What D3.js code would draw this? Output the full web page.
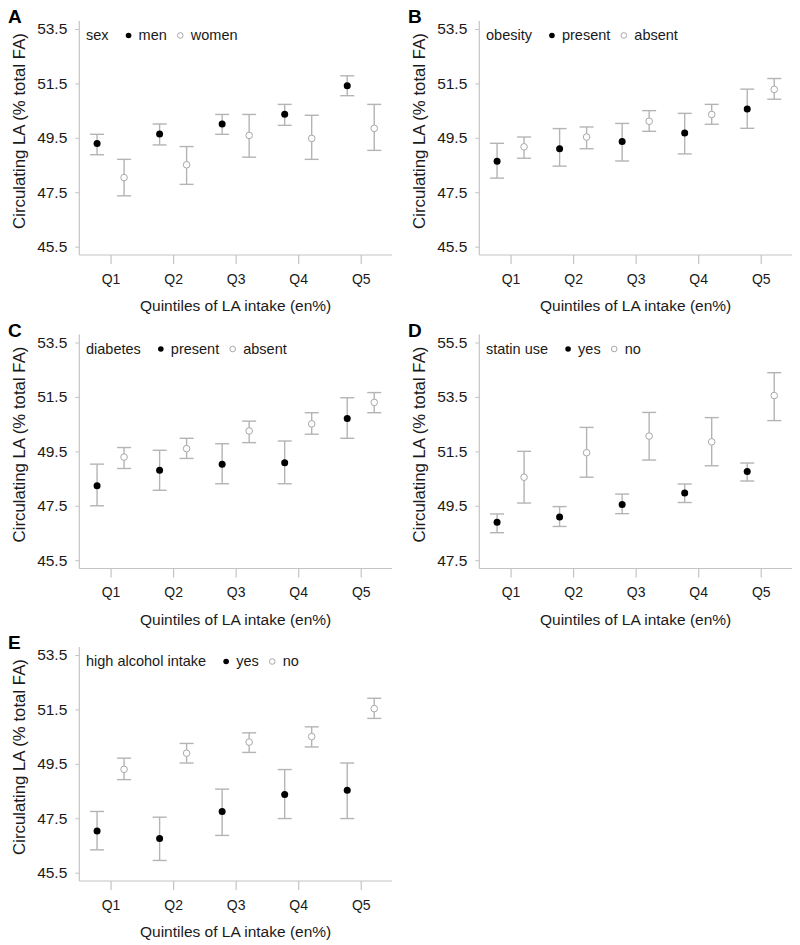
<!DOCTYPE html>
<html>
<head>
<meta charset="utf-8">
<script src="https://cdn.jsdelivr.net/npm/d3@7"></script>
<style>
  html, body { margin: 0; padding: 0; background: #fff; }
  svg { display: block; font-family: "Liberation Sans", Arial, Helvetica, sans-serif; }
</style>
</head>
<body>
<svg id="chart" width="800" height="945"></svg>
<script>
// ---------- data ----------
const quintiles = ["Q1", "Q2", "Q3", "Q4", "Q5"];
const xAxisTitle = "Quintiles of LA intake (en%)";
const yAxisTitle = "Circulating LA (% total FA)";

const yTicksDefault = [45.5, 47.5, 49.5, 51.5, 53.5];
const yTicksStatin = [47.5, 49.5, 51.5, 53.5, 55.5];

// A: sex
const sexMenMean = [49.29, 49.64, 50.01, 50.37, 51.41];
const sexMenLo = [48.88, 49.24, 49.63, 49.96, 51.05];
const sexMenHi = [49.63, 50.01, 50.36, 50.73, 51.78];
const sexWomenMean = [48.04, 48.51, 49.59, 49.48, 49.85];
const sexWomenLo = [47.37, 47.79, 48.79, 48.71, 49.04];
const sexWomenHi = [48.71, 49.18, 50.36, 50.33, 50.73];

// B: obesity
const obesityPresentMean = [48.64, 49.10, 49.37, 49.68, 50.56];
const obesityPresentLo = [48.02, 48.46, 48.65, 48.91, 49.85];
const obesityPresentHi = [49.30, 49.84, 50.03, 50.40, 51.29];
const obesityAbsentMean = [49.17, 49.53, 50.11, 50.36, 51.28];
const obesityAbsentLo = [48.75, 49.10, 49.74, 50.00, 50.92];
const obesityAbsentHi = [49.53, 49.90, 50.50, 50.73, 51.68];

// C: diabetes
const diabetesPresentMean = [48.24, 48.81, 49.03, 49.08, 50.71];
const diabetesPresentLo = [47.50, 48.07, 48.31, 48.31, 49.98];
const diabetesPresentHi = [49.03, 49.54, 49.78, 49.88, 51.47];
const diabetesAbsentMean = [49.29, 49.60, 50.25, 50.51, 51.30];
const diabetesAbsentLo = [48.87, 49.24, 49.82, 50.13, 50.92];
const diabetesAbsentHi = [49.64, 49.98, 50.61, 50.92, 51.66];

// D: statin use
const statinYesMean = [48.89, 49.09, 49.55, 49.97, 50.76];
const statinYesLo = [48.51, 48.74, 49.21, 49.62, 50.41];
const statinYesHi = [49.20, 49.47, 49.93, 50.30, 51.07];
const statinNoMean = [50.55, 51.45, 52.06, 51.85, 53.55];
const statinNoLo = [49.60, 50.55, 51.18, 50.97, 52.63];
const statinNoHi = [51.50, 52.38, 52.93, 52.74, 54.39];

// E: high alcohol intake
const alcoholYesMean = [47.03, 46.76, 47.75, 48.37, 48.53];
const alcoholYesLo = [46.34, 45.95, 46.87, 47.49, 47.49];
const alcoholYesHi = [47.75, 47.54, 48.57, 49.29, 49.53];
const alcoholNoMean = [49.30, 49.89, 50.30, 50.50, 51.53];
const alcoholNoLo = [48.92, 49.53, 49.92, 50.12, 51.17];
const alcoholNoHi = [49.71, 50.25, 50.64, 50.86, 51.91];

// ---------- panel definitions ----------
const panels = [
  { letter: "A", col: 0, row: 0, title: "sex", labels: ["men", "women"], ticks: yTicksDefault,
    series: [[sexMenMean, sexMenLo, sexMenHi], [sexWomenMean, sexWomenLo, sexWomenHi]] },
  { letter: "B", col: 1, row: 0, title: "obesity", labels: ["present", "absent"], ticks: yTicksDefault,
    series: [[obesityPresentMean, obesityPresentLo, obesityPresentHi], [obesityAbsentMean, obesityAbsentLo, obesityAbsentHi]] },
  { letter: "C", col: 0, row: 1, title: "diabetes", labels: ["present", "absent"], ticks: yTicksDefault,
    series: [[diabetesPresentMean, diabetesPresentLo, diabetesPresentHi], [diabetesAbsentMean, diabetesAbsentLo, diabetesAbsentHi]] },
  { letter: "D", col: 1, row: 1, title: "statin use", labels: ["yes", "no"], ticks: yTicksStatin,
    series: [[statinYesMean, statinYesLo, statinYesHi], [statinNoMean, statinNoLo, statinNoHi]] },
  { letter: "E", col: 0, row: 2, title: "high alcohol intake", labels: ["yes", "no"], ticks: yTicksDefault,
    series: [[alcoholYesMean, alcoholYesLo, alcoholYesHi], [alcoholNoMean, alcoholNoLo, alcoholNoHi]] }
];

// ---------- layout ----------
const colOffset = [0, 400];
const rowOffset = [0, 313.5, 626];
const axisX = 79.3, axisRight = 392;
const yTopPx = 29, yBotPx = 246.7;
const xAxisY = 255, axisTopY = 21;

const gridColor = "#c4c4c4";
const barColor = "#b4b4b4";
const textColor = "#1a1a1a";

const svg = d3.select("#chart");

panels.forEach(p => {
  const ox = colOffset[p.col], oy = rowOffset[p.row];
  const g = svg.append("g").attr("transform", `translate(${ox},${oy})`);

  const y = d3.scaleLinear()
    .domain([p.ticks[0], p.ticks[p.ticks.length - 1]])
    .range([yBotPx, yTopPx]);
  const x = d3.scalePoint().domain(quintiles).range([axisX, axisRight]).padding(0.5);
  const sub = d3.scalePoint().domain([0, 1]).range([-13.5, 13.5]);

  // y axis
  const yAxis = g.append("g").attr("transform", `translate(${axisX},0)`)
    .call(d3.axisLeft(y).tickValues(p.ticks).tickFormat(d3.format(".1f")).tickSize(4).tickPadding(8));
  yAxis.select(".domain").remove();
  yAxis.selectAll(".tick line").attr("stroke", gridColor);
  yAxis.selectAll(".tick text").attr("fill", textColor).style("font-size", "15.5px")
    .style("font-family", "'Liberation Sans', Arial, sans-serif");
  g.append("line").attr("x1", axisX).attr("x2", axisX).attr("y1", axisTopY).attr("y2", xAxisY)
    .attr("stroke", gridColor).attr("stroke-width", 1.2);

  // x axis
  const xAxis = g.append("g").attr("transform", `translate(0,${xAxisY})`)
    .call(d3.axisBottom(x).tickSize(9).tickPadding(10));
  xAxis.select(".domain").remove();
  xAxis.selectAll(".tick line").attr("stroke", gridColor).attr("stroke-width", 1.2);
  xAxis.selectAll(".tick text").attr("fill", textColor).style("font-size", "14px")
    .style("font-family", "'Liberation Sans', Arial, sans-serif");
  g.append("line").attr("x1", axisX).attr("x2", axisRight).attr("y1", xAxisY).attr("y2", xAxisY)
    .attr("stroke", gridColor).attr("stroke-width", 1.2);

  // axis titles
  g.append("text").attr("x", (axisX + axisRight) / 2).attr("y", 311)
    .attr("text-anchor", "middle").attr("fill", textColor).style("font-size", "15.5px")
    .text(xAxisTitle);
  g.append("text").attr("transform", `translate(24.5,131) rotate(-90)`)
    .attr("text-anchor", "middle").attr("fill", textColor).style("font-size", "16.8px")
    .text(yAxisTitle);

  // panel letter
  g.append("text").attr("x", 8).attr("y", 23).attr("fill", "#000")
    .style("font-size", "19px").style("font-weight", "bold").text(p.letter);

  // error bars + points
  p.series.forEach((s, si) => {
    const [mean, lo, hi] = s;
    const data = quintiles.map((q, i) => ({ q, m: mean[i], lo: lo[i], hi: hi[i] }));
    const sg = g.append("g");
    const cx = d => x(d.q) + sub(si);
    sg.selectAll("line.v").data(data).join("line").attr("class", "v")
      .attr("x1", cx).attr("x2", cx).attr("y1", d => y(d.hi)).attr("y2", d => y(d.lo))
      .attr("stroke", barColor).attr("stroke-width", 1.4);
    sg.selectAll("line.ct").data(data).join("line").attr("class", "ct")
      .attr("x1", d => cx(d) - 7).attr("x2", d => cx(d) + 7)
      .attr("y1", d => y(d.hi)).attr("y2", d => y(d.hi))
      .attr("stroke", barColor).attr("stroke-width", 1.4);
    sg.selectAll("line.cb").data(data).join("line").attr("class", "cb")
      .attr("x1", d => cx(d) - 7).attr("x2", d => cx(d) + 7)
      .attr("y1", d => y(d.lo)).attr("y2", d => y(d.lo))
      .attr("stroke", barColor).attr("stroke-width", 1.4);
    sg.selectAll("circle").data(data).join("circle")
      .attr("cx", cx).attr("cy", d => y(d.m)).attr("r", si === 0 ? 3.5 : 3.3)
      .attr("fill", si === 0 ? "#000" : "#fff")
      .attr("stroke", si === 0 ? "none" : "#a8a8a8").attr("stroke-width", 1);
  });

  // legend
  const lg = g.append("g").style("font-size", "14.5px").attr("fill", textColor);
  const legY = 40;
  const t0 = lg.append("text").attr("x", 86).attr("y", legY).text(p.title);
  let cur = 86 + t0.node().getComputedTextLength() + 20;
  lg.append("circle").attr("cx", cur).attr("cy", legY - 4.5).attr("r", 2.8).attr("fill", "#000");
  cur += 10;
  const t1 = lg.append("text").attr("x", cur).attr("y", legY).text(p.labels[0]);
  cur += t1.node().getComputedTextLength() + 13.5;
  lg.append("circle").attr("cx", cur).attr("cy", legY - 4.5).attr("r", 2.8)
    .attr("fill", "#fff").attr("stroke", "#a8a8a8").attr("stroke-width", 1);
  cur += 10.5;
  lg.append("text").attr("x", cur).attr("y", legY).text(p.labels[1]);
});
</script>
</body>
</html>
